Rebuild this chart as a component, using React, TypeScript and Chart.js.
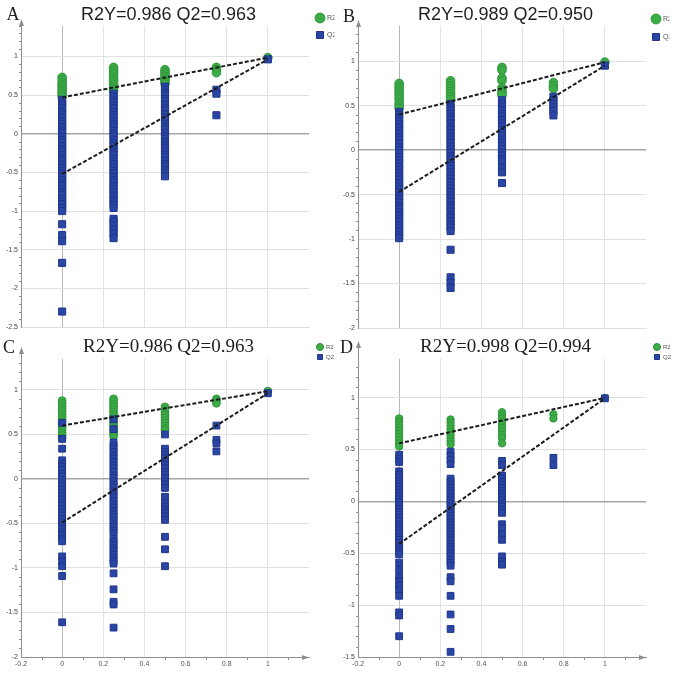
import React, { useEffect, useRef } from 'react';
import { Chart, registerables } from 'chart.js';

Chart.register(...registerables);

// ---------- data ----------
const X_PERM = [0, 0.25, 0.5, 0.75, 1];
const X_TICKS = [-0.2, 0, 0.2, 0.4, 0.6, 0.8, 1];

const A_Y_TICKS = [-2.5, -2, -1.5, -1, -0.5, 0, 0.5, 1];
const B_Y_TICKS = [-2, -1.5, -1, -0.5, 0, 0.5, 1];
const C_Y_TICKS = [-2, -1.5, -1, -0.5, 0, 0.5, 1];
const D_Y_TICKS = [-1.5, -1, -0.5, 0, 0.5, 1];

const TITLES = ['R2Y=0.986 Q2=0.963', 'R2Y=0.989 Q2=0.950', 'R2Y=0.986 Q2=0.963', 'R2Y=0.998 Q2=0.994'];
const LETTERS = ['A', 'B', 'C', 'D'];

// [R2 intercept, Q2 intercept] at x = 0 ; [R2Y, Q2] at x = 1
const A_INTERCEPTS = [0.47, -0.52];
const A_ORIGINAL = [0.986, 0.963];
const B_INTERCEPTS = [0.40, -0.47];
const B_ORIGINAL = [0.989, 0.950];
const C_INTERCEPTS = [0.60, -0.49];
const C_ORIGINAL = [0.986, 0.963];
const D_INTERCEPTS = [0.56, -0.41];
const D_ORIGINAL = [0.998, 0.994];

// columns in order of X_PERM
const A_R2 = [
  [0.73, 0.70, 0.66, 0.63, 0.60, 0.57, 0.54, 0.51, 0.48],
  [0.86, 0.83, 0.80, 0.77, 0.73, 0.70, 0.67, 0.64, 0.61, 0.58, 0.55],
  [0.83, 0.80, 0.77, 0.74, 0.71, 0.68, 0.65],
  [0.86, 0.83, 0.79],
  [0.986],
];
const A_Q2 = [
  [0.44, 0.40, 0.37, 0.33, 0.28, 0.25, 0.21, 0.16, 0.13, 0.09, 0.04, 0.01, -0.04, -0.08, -0.11, -0.16, -0.20, -0.23, -0.28, -0.32, -0.35, -0.40, -0.44, -0.48, -0.52, -0.55, -0.60, -0.64, -0.67, -0.72, -0.76, -0.79, -0.84, -0.88, -0.91, -0.96, -1.00, -1.17, -1.31, -1.39, -1.67, -2.30],
  [0.52, 0.48, 0.44, 0.41, 0.36, 0.33, 0.28, 0.24, 0.21, 0.16, 0.12, 0.09, 0.04, 0.00, -0.03, -0.08, -0.12, -0.15, -0.20, -0.24, -0.27, -0.32, -0.36, -0.39, -0.44, -0.48, -0.51, -0.56, -0.60, -0.63, -0.68, -0.72, -0.75, -0.80, -0.84, -0.87, -0.92, -0.96, -1.10, -1.14, -1.19, -1.24, -1.29, -1.35],
  [0.61, 0.57, 0.53, 0.50, 0.45, 0.42, 0.37, 0.33, 0.30, 0.25, 0.21, 0.18, 0.13, 0.09, 0.06, 0.01, -0.03, -0.06, -0.11, -0.15, -0.18, -0.23, -0.27, -0.30, -0.35, -0.39, -0.42, -0.47, -0.51, -0.55],
  [0.57, 0.52, 0.24],
  [0.963],
];

const B_R2 = [
  [0.75, 0.72, 0.69, 0.66, 0.63, 0.60, 0.57, 0.53, 0.50, 0.47],
  [0.78, 0.75, 0.72, 0.69, 0.66, 0.63, 0.60, 0.57],
  [0.93, 0.90, 0.81, 0.78, 0.70, 0.67, 0.64, 0.62],
  [0.76, 0.72, 0.69],
  [0.989],
];
const B_Q2 = [
  [0.43, 0.40, 0.36, 0.33, 0.29, 0.25, 0.22, 0.18, 0.14, 0.11, 0.07, 0.03, 0.00, -0.04, -0.08, -0.11, -0.15, -0.19, -0.22, -0.26, -0.30, -0.33, -0.37, -0.41, -0.44, -0.48, -0.52, -0.55, -0.59, -0.63, -0.66, -0.70, -0.74, -0.77, -0.81, -0.85, -0.88, -0.92, -0.96, -0.99],
  [0.52, 0.48, 0.45, 0.41, 0.37, 0.34, 0.30, 0.26, 0.23, 0.19, 0.15, 0.12, 0.08, 0.04, 0.01, -0.03, -0.07, -0.10, -0.14, -0.18, -0.21, -0.25, -0.29, -0.32, -0.36, -0.40, -0.43, -0.47, -0.51, -0.54, -0.58, -0.62, -0.65, -0.69, -0.73, -0.76, -0.80, -0.84, -0.87, -0.91, -1.12, -1.43, -1.49, -1.55],
  [0.56, 0.52, 0.49, 0.45, 0.41, 0.38, 0.34, 0.30, 0.27, 0.23, 0.19, 0.16, 0.12, 0.08, 0.05, 0.01, -0.03, -0.06, -0.10, -0.12, -0.20, -0.25, -0.37],
  [0.60, 0.56, 0.52, 0.48, 0.44, 0.39],
  [0.950],
];

const C_R2 = [
  [0.88, 0.85, 0.82, 0.79, 0.76, 0.73, 0.70, 0.67, 0.64, 0.61, 0.58, 0.55, 0.52, 0.49, 0.46],
  [0.90, 0.87, 0.84, 0.81, 0.78, 0.75, 0.72, 0.69, 0.66, 0.63, 0.60, 0.57, 0.54, 0.51, 0.48],
  [0.81, 0.78, 0.75, 0.72, 0.69, 0.66, 0.63, 0.60, 0.57, 0.55],
  [0.90, 0.88, 0.85],
  [0.986],
];
const C_Q2 = [
  [0.63, 0.45, 0.34, 0.21, 0.17, 0.14, 0.10, 0.06, 0.03, -0.01, -0.05, -0.08, -0.12, -0.16, -0.19, -0.23, -0.27, -0.30, -0.34, -0.38, -0.41, -0.45, -0.49, -0.52, -0.56, -0.60, -0.63, -0.67, -0.70, -0.87, -0.93, -0.98, -1.09, -1.61],
  [0.67, 0.56, 0.41, 0.37, 0.34, 0.30, 0.26, 0.23, 0.19, 0.15, 0.12, 0.08, 0.04, 0.01, -0.03, -0.07, -0.10, -0.14, -0.18, -0.21, -0.25, -0.29, -0.32, -0.36, -0.40, -0.43, -0.47, -0.51, -0.54, -0.58, -0.61, -0.67, -0.70, -0.74, -0.78, -0.81, -0.85, -0.89, -0.92, -0.95, -1.06, -1.24, -1.38, -1.41, -1.67],
  [0.50, 0.34, 0.30, 0.27, 0.23, 0.19, 0.16, 0.12, 0.08, 0.05, 0.01, -0.03, -0.06, -0.10, -0.20, -0.27, -0.31, -0.35, -0.38, -0.42, -0.46, -0.65, -0.79, -0.98],
  [0.60, 0.44, 0.40, 0.31],
  [0.963],
];

const D_R2 = [
  [0.80, 0.77, 0.74, 0.71, 0.68, 0.65, 0.62, 0.59, 0.56, 0.53],
  [0.79, 0.76, 0.73, 0.70, 0.67, 0.64, 0.61, 0.58, 0.55],
  [0.86, 0.83, 0.80, 0.77, 0.74, 0.71, 0.68, 0.64, 0.61, 0.56],
  [0.84, 0.80],
  [0.998],
];
const D_Q2 = [
  [0.45, 0.41, 0.38, 0.29, 0.26, 0.23, 0.20, 0.17, 0.14, 0.11, 0.08, 0.05, 0.02, -0.01, -0.04, -0.07, -0.10, -0.13, -0.16, -0.19, -0.22, -0.25, -0.28, -0.31, -0.34, -0.37, -0.40, -0.43, -0.46, -0.49, -0.51, -0.59, -0.66, -0.73, -0.77, -0.81, -0.85, -0.91, -1.07, -1.10, -1.30],
  [0.48, 0.44, 0.40, 0.36, 0.22, 0.19, 0.16, 0.13, 0.10, 0.07, 0.04, 0.01, -0.02, -0.05, -0.08, -0.11, -0.14, -0.17, -0.20, -0.23, -0.26, -0.29, -0.32, -0.35, -0.38, -0.41, -0.44, -0.47, -0.50, -0.53, -0.56, -0.59, -0.62, -0.73, -0.77, -0.91, -1.09, -1.23, -1.45],
  [0.39, 0.35, 0.25, 0.22, 0.19, 0.16, 0.13, 0.10, 0.07, 0.04, 0.01, -0.02, -0.05, -0.08, -0.11, -0.22, -0.26, -0.32, -0.37, -0.53, -0.58, -0.61],
  [0.42, 0.35],
  [0.994],
];

// ---------- layout / style ----------
const SANS = '"Liberation Sans", Arial, sans-serif';
const SERIF = '"Liberation Serif", "Times New Roman", serif';

type Spec = {
  idx: number; left: number; top: number; w: number; h: number;
  r2: number[][]; q2: number[][]; icpt: number[]; orig: number[]; yTicks: number[];
  yMin: number; yMax: number; titleFont: string; titleSize: number; titlePadTop: number;
  xAxisH: number; showX: boolean; circleR: number; rectR: number;
  legFont: number; legBox: number; legPad: number; legLeft: number; legTop: number;
  arrowTip: number; letterX: number; letterY: number;
};

const SPECS: Spec[] = [
  { idx: 0, left: 0, top: 0, w: 337, h: 336, r2: A_R2, q2: A_Q2, icpt: A_INTERCEPTS, orig: A_ORIGINAL, yTicks: A_Y_TICKS,
    yMin: -2.5, yMax: 1.4, titleFont: SANS, titleSize: 18, titlePadTop: 4, xAxisH: 9, showX: false, circleR: 4.3, rectR: 5,
    legFont: 7, legBox: 7, legPad: 10, legLeft: 306.5, legTop: 4.5, arrowTip: 19, letterX: 6.5, letterY: 5 },
  { idx: 1, left: 337, top: 0, w: 337, h: 336, r2: B_R2, q2: B_Q2, icpt: B_INTERCEPTS, orig: B_ORIGINAL, yTicks: B_Y_TICKS,
    yMin: -2, yMax: 1.4, titleFont: SANS, titleSize: 18, titlePadTop: 4, xAxisH: 8, showX: false, circleR: 4.3, rectR: 5,
    legFont: 7, legBox: 7, legPad: 11, legLeft: 304.5, legTop: 4.5, arrowTip: 20, letterX: 6, letterY: 7 },
  { idx: 2, left: 0, top: 336, w: 337, h: 337, r2: C_R2, q2: C_Q2, icpt: C_INTERCEPTS, orig: C_ORIGINAL, yTicks: C_Y_TICKS,
    yMin: -2, yMax: 1.35, titleFont: SERIF, titleSize: 19, titlePadTop: 0, xAxisH: 16, showX: true, circleR: 3.9, rectR: 4.8,
    legFont: 6, legBox: 5, legPad: 4, legLeft: 313, legTop: 4, arrowTip: 11, letterX: 3, letterY: 1.5 },
  { idx: 3, left: 337, top: 336, w: 337, h: 337, r2: D_R2, q2: D_Q2, icpt: D_INTERCEPTS, orig: D_ORIGINAL, yTicks: D_Y_TICKS,
    yMin: -1.5, yMax: 1.375, titleFont: SERIF, titleSize: 19, titlePadTop: 0, xAxisH: 16, showX: true, circleR: 3.7, rectR: 4.8,
    legFont: 6, legBox: 5, legPad: 4, legLeft: 313, legTop: 4, arrowTip: 5, letterX: 3, letterY: 1.5 },
];

function toPoints(cols: number[][]) {
  const pts: { x: number; y: number }[] = [];
  cols.forEach((col, i) => col.forEach((v) => pts.push({ x: X_PERM[i], y: v })));
  return pts;
}

const AXIS = '#8e8e8e';

const decor = {
  id: 'decor',
  afterLayout(chart: any, _a: any, opts: any) {
    const lg = chart.legend;
    if (lg) {
      const w = lg.width;
      lg.left = opts.legLeft;
      lg.right = opts.legLeft + w;
      lg.top = opts.legTop;
    }
  },
  afterDraw(chart: any, _a: any, opts: any) {
    const { ctx, chartArea } = chart;
    const { left, right, top, bottom } = chartArea;
    const y = chart.scales.y;
    const x = chart.scales.x;
    ctx.save();
    ctx.strokeStyle = AXIS;
    ctx.fillStyle = AXIS;
    ctx.lineWidth = 1;
    const ax = Math.round(left) + 0.5;
    // y axis extension + arrow
    ctx.beginPath();
    ctx.moveTo(ax, top);
    ctx.lineTo(ax, opts.arrowTip + 3);
    ctx.stroke();
    ctx.beginPath();
    ctx.moveTo(ax, opts.arrowTip);
    ctx.lineTo(ax - 2.5, opts.arrowTip + 7);
    ctx.lineTo(ax + 2.5, opts.arrowTip + 7);
    ctx.closePath();
    ctx.fill();
    // minor y ticks
    ctx.beginPath();
    const lo = Math.ceil(opts.yMin * 10);
    const hi = Math.floor(opts.yMax * 10);
    for (let k = lo; k <= hi; k++) {
      if (k % 5 === 0) continue;
      const py = Math.round(y.getPixelForValue(k / 10)) + 0.5;
      ctx.moveTo(ax - 2.5, py);
      ctx.lineTo(ax, py);
    }
    ctx.stroke();
    if (opts.showX) {
      const by = Math.round(bottom) + 0.5;
      ctx.beginPath();
      ctx.moveTo(right - 6, by);
      ctx.lineTo(right, by);
      ctx.stroke();
      ctx.beginPath();
      ctx.moveTo(right, by);
      ctx.lineTo(right - 7, by - 2.5);
      ctx.lineTo(right - 7, by + 2.5);
      ctx.closePath();
      ctx.fill();
      ctx.beginPath();
      for (let k = -1; k <= 11; k++) {
        if (k % 2 === 0) continue;
        const px = Math.round(x.getPixelForValue(k / 10)) + 0.5;
        ctx.moveTo(px, by);
        ctx.lineTo(px, by + 2.5);
      }
      ctx.stroke();
    }
    ctx.restore();
  },
};

function makeConfig(p: Spec): any {
  const green = '#3dab47';
  const greenB = '#2f973a';
  const blue = '#2b45a3';
  const blueB = '#1f368d';
  return {
    type: 'scatter',
    data: {
      datasets: [
        {
          label: 'R2 fit', order: 0, showLine: true, pointRadius: 0, borderColor: '#1c1c1c', borderWidth: 2,
          borderDash: [4, 2], data: [{ x: X_PERM[0], y: p.icpt[0] }, { x: X_PERM[4], y: p.orig[0] }],
        },
        {
          label: 'Q2 fit', order: 0, showLine: true, pointRadius: 0, borderColor: '#1c1c1c', borderWidth: 2,
          borderDash: [4, 2], data: [{ x: X_PERM[0], y: p.icpt[1] }, { x: X_PERM[4], y: p.orig[1] }],
        },
        {
          label: 'R2', order: 2, data: toPoints(p.r2), pointStyle: 'circle', pointRadius: p.circleR,
          backgroundColor: green, borderColor: greenB, borderWidth: 1,
        },
        {
          label: 'Q2', order: 1, data: toPoints(p.q2), pointStyle: 'rect', pointRadius: p.rectR,
          backgroundColor: blue, borderColor: blueB, borderWidth: 1,
        },
      ],
    },
    options: {
      responsive: false,
      animation: false,
      events: [],
      layout: { padding: 0 },
      scales: {
        x: {
          type: 'linear', min: -0.2, max: 1.2,
          afterBuildTicks: (s: any) => { s.ticks = X_TICKS.map((v) => ({ value: v })); },
          afterFit: (s: any) => { s.height = p.xAxisH; },
          grid: {
            drawTicks: false,
            color: (c: any) => (c.tick && c.tick.value === 0 ? '#b6b6b6' : '#e1e5ea'),
            lineWidth: 1,
          },
          border: { display: true, color: p.showX ? AXIS : '#dedede', width: 1 },
          ticks: {
            display: p.showX, padding: 3, color: '#555', font: { size: 7, family: SANS },
            callback: (v: number) => String(Math.round(v * 10) / 10),
          },
        },
        y: {
          type: 'linear', min: p.yMin, max: p.yMax,
          afterBuildTicks: (s: any) => { s.ticks = p.yTicks.map((v) => ({ value: v })); },
          afterFit: (s: any) => { s.width = 21; },
          grid: {
            drawTicks: false,
            color: (c: any) => (c.tick && c.tick.value === 0 ? '#a6a6a6' : '#e0e0e0'),
            lineWidth: (c: any) => (c.tick && c.tick.value === 0 ? 1.5 : 1),
          },
          border: { display: true, color: AXIS, width: 1 },
          ticks: {
            padding: 3, color: '#444', font: { size: 7, family: SANS },
            callback: (v: number) => String(v),
          },
        },
      },
      plugins: {
        tooltip: { enabled: false },
        title: {
          display: true, text: TITLES[p.idx], color: '#1e1e1e',
          font: { family: p.titleFont, size: p.titleSize, weight: 'normal', lineHeight: 1.2 },
          padding: { top: p.titlePadTop, bottom: 0 },
        },
        legend: {
          display: true, position: 'right', align: 'start', maxWidth: 28,
          labels: {
            usePointStyle: true, boxHeight: p.legBox, padding: p.legPad, color: '#555',
            font: { size: p.legFont, family: SANS },
            filter: (item: any) => item.text === 'R2' || item.text === 'Q2',
            sort: (a: any, b: any) => (a.text === 'R2' ? 0 : 1) - (b.text === 'R2' ? 0 : 1),
          },
        },
        decor: {
          legLeft: p.legLeft, legTop: p.legTop, arrowTip: p.arrowTip, yMin: p.yMin, yMax: p.yMax, showX: p.showX,
        },
      },
    },
    plugins: [decor],
  };
}

function Panel({ p }: { p: Spec }) {
  const ref = useRef<HTMLCanvasElement>(null);
  useEffect(() => {
    const chart = new Chart(ref.current as HTMLCanvasElement, makeConfig(p));
    return () => chart.destroy();
  }, [p]);
  return (
    <div style={{ position: 'absolute', left: p.left, top: p.top, width: p.w, height: p.h }}>
      <canvas ref={ref} width={p.w} height={p.h} style={{ display: 'block', width: p.w, height: p.h }} />
      <div
        style={{
          position: 'absolute', left: p.letterX, top: p.letterY, fontFamily: SERIF, fontSize: 18,
          lineHeight: 1, color: '#222',
        }}
      >
        {LETTERS[p.idx]}
      </div>
    </div>
  );
}

export default function App() {
  return (
    <div style={{ position: 'fixed', left: 0, top: 0, width: 674, height: 673, background: '#fff', overflow: 'hidden' }}>
      {SPECS.map((p) => (
        <Panel key={p.idx} p={p} />
      ))}
    </div>
  );
}
